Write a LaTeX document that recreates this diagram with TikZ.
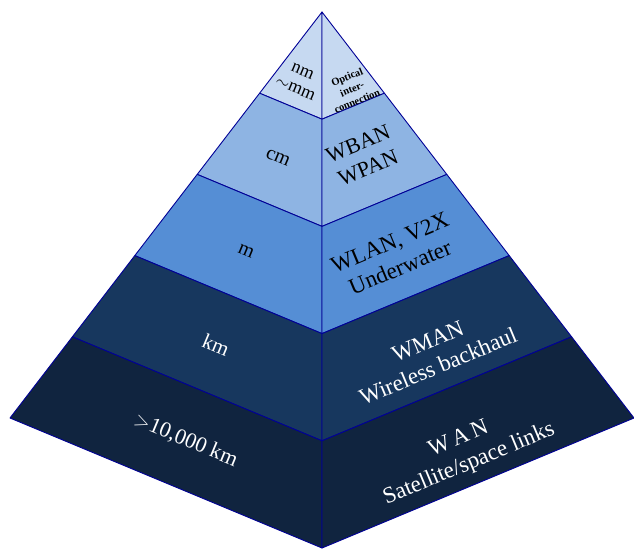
\documentclass[tikz,border=0pt]{standalone}
\usepackage{fontspec}
\setmainfont{Liberation Serif}
\usetikzlibrary{calc}
\definecolor{edgec}{RGB}{0,0,150}
\definecolor{c1}{HTML}{C6D9F1}
\definecolor{c2}{HTML}{8EB4E3}
\definecolor{c3}{HTML}{558ED5}
\definecolor{c4}{HTML}{17375E}
\definecolor{c5}{HTML}{10243F}
\tikzset{
  face/.style={draw=edgec, line width=0.9pt, line join=round},
  lbl/.style={align=center, inner sep=0pt},
  lface/.style={lbl, rotate=-22.6},
  rface/.style={lbl, rotate=22.6},
}
\begin{document}
\begin{tikzpicture}[x=1pt,y=-1pt]
\useasboundingbox (0,0) rectangle (634,550);
\coordinate (A) at (322,12);
\coordinate (L) at (10,418);
\coordinate (B) at (322,548);
\coordinate (R) at (634,418);
\foreach \k in {0,1,2,3,4,5}{
  \coordinate (L\k) at ($(A)!\k/5!(L)$);
  \coordinate (C\k) at ($(A)!\k/5!(B)$);
  \coordinate (R\k) at ($(A)!\k/5!(R)$);
}
\foreach \k/\j/\col in {1/0/c1,2/1/c2,3/2/c3,4/3/c4,5/4/c5}{
  \filldraw[face, fill=\col] (L\j) -- (C\j) -- (C\k) -- (L\k) -- cycle;
  \filldraw[face, fill=\col] (R\j) -- (C\j) -- (C\k) -- (R\k) -- cycle;
}
\node[lface, font=\fontsize{18}{19}\selectfont] (t1l) at (299,80) {nm\\$\sim$mm};
\node[rface, font=\bfseries\fontsize{10.5}{13}\selectfont] (t1r) at (352,89) {Optical\\inter-\\connection};
\node[lface, font=\fontsize{20}{22}\selectfont] (t2l) at (278,158) {cm};
\node[rface, font=\fontsize{22}{26}\selectfont] (t2r) at (363,156) {WBAN\\WPAN};
\node[lface, font=\fontsize{20}{22}\selectfont] (t3l) at (246,251) {m};
\node[rface, font=\fontsize{23}{27}\selectfont] (t3r) at (395,255) {WLAN, V2X\\Underwater};
\node[lface, text=white, font=\fontsize{21}{24}\selectfont] (t4l) at (216,345) {km};
\node[rface, text=white, font=\fontsize{23}{27}\selectfont] (t4r) at (433,354) {WMAN\\Wireless backhaul};
\node[lface, text=white, font=\fontsize{22}{24}\selectfont] (t5l) at (186,440) {$>$10,000 km};
\node[rface, text=white, font=\fontsize{23}{27}\selectfont] (t5r) at (464,452) {W\,A\,N\\Satellite/space links};
\end{tikzpicture}
\end{document}
